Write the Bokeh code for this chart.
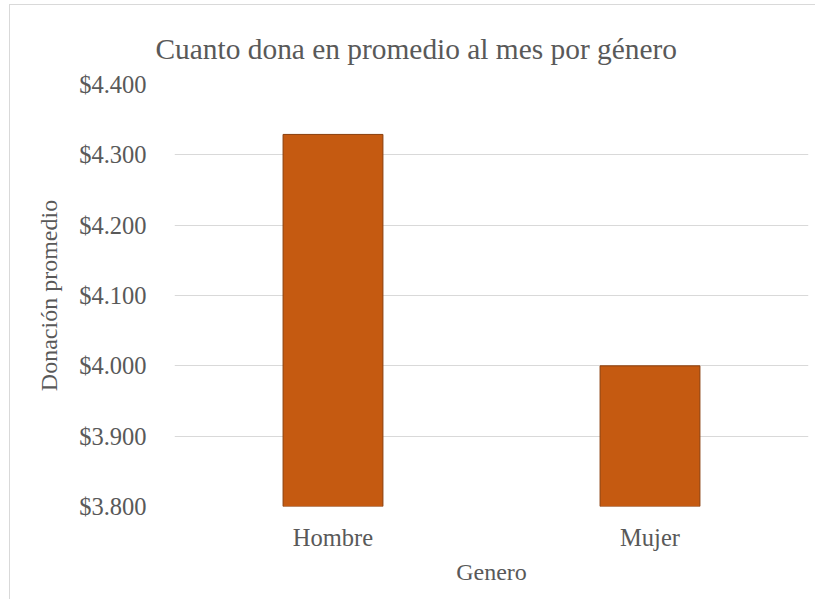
from bokeh.plotting import figure
from bokeh.models import Range1d, FixedTicker
from bokeh.embed import file_html
from bokeh.resources import INLINE

categories = ["Hombre", "Mujer"]
donacion = [4329, 4000]
tick_values = [3800, 3900, 4000, 4100, 4200, 4300, 4400]
tick_labels = ["$3.800", "$3.900", "$4.000", "$4.100", "$4.200", "$4.300", "$4.400"]
titulo = "Cuanto dona en promedio al mes por género"

FONT = "Liberation Serif"
TXT = "#595959"

p = figure(x_range=categories, y_range=Range1d(3800, 4400),
           width=806, height=595, output_backend="svg", toolbar_location=None,
           title=titulo,
           min_border_left=164, min_border_right=8, min_border_top=79, min_border_bottom=94,
           styles={"margin-left": "9px", "margin-top": "4px",
                   "border-left": "1px solid #d9d9d9", "border-top": "1px solid #d9d9d9"})

p.vbar(x=categories, top=donacion, bottom=3800, width=0.315,
       fill_color="#C55A11", line_color="#8A3E0C", line_width=1)

p.title.text_font = FONT
p.title.text_font_size = "29.4px"
p.title.text_font_style = "normal"
p.title.text_color = TXT
p.title.align = "left"
p.title.offset = -19
p.title.standoff = 40

p.outline_line_color = None
p.xgrid.grid_line_color = None
p.ygrid.grid_line_color = "#d9d9d9"
p.ygrid.grid_line_width = 1

p.yaxis.ticker = FixedTicker(ticks=tick_values)
p.yaxis.major_label_overrides = {v: l for v, l in zip(tick_values, tick_labels)}
for ax in (p.xaxis, p.yaxis):
    ax.axis_line_color = None
    ax.major_tick_line_color = None
    ax.minor_tick_line_color = None
    ax.major_tick_out = 0
    ax.major_tick_in = 0
    ax.major_label_text_font = FONT
    ax.major_label_text_font_size = "24.5px"
    ax.major_label_text_color = TXT
    ax.major_label_text_font_style = "normal"
    ax.axis_label_text_font = FONT
    ax.axis_label_text_font_size = "24px"
    ax.axis_label_text_color = TXT
    ax.axis_label_text_font_style = "normal"

p.yaxis.axis_label = "Donación promedio"
p.xaxis.axis_label = "Genero"
p.yaxis.major_label_standoff = 28
p.yaxis.axis_label_standoff = 14
p.xaxis.major_label_standoff = 17
p.xaxis.axis_label_standoff = 5

open("out.html", "w").write(file_html(p, INLINE))
